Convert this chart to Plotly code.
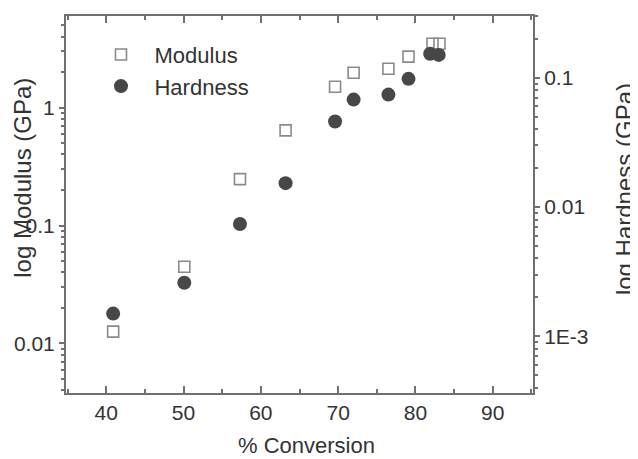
import plotly.graph_objects as go

conversion_modulus = [40.9, 50.1, 57.3, 63.2, 69.6, 72.0, 76.5, 79.1, 82.2, 83.1]
modulus_gpa = [0.0126, 0.0447, 0.247, 0.64, 1.50, 1.97, 2.13, 2.70, 3.47, 3.47]

conversion_hardness = [40.9, 50.1, 57.3, 63.2, 69.6, 72.0, 76.5, 79.1, 81.9, 83.0]
hardness_gpa = [0.00150, 0.0026, 0.0074, 0.0153, 0.0459, 0.0677, 0.074, 0.098, 0.153, 0.150]

x_ticks = [40, 50, 60, 70, 80, 90]
mod_tickvals = [0.01, 0.1, 1]
mod_ticktext = ["0.01", "0.1", "1"]
hard_tickvals = [0.001, 0.01, 0.1]
hard_ticktext = ["1E-3", "0.01", "0.1"]

FONT = "Liberation Sans, Arial, sans-serif"
TXT = "#333333"
AX = "#707070"

fig = go.Figure()
fig.add_trace(go.Scatter(
    x=conversion_modulus, y=modulus_gpa, mode="markers", name="Modulus",
    marker=dict(symbol="square-open", size=11, color="#8a8a8a", line=dict(width=1.6, color="#8a8a8a")),
    yaxis="y"))
fig.add_trace(go.Scatter(
    x=conversion_hardness, y=hardness_gpa, mode="markers", name="Hardness",
    marker=dict(symbol="circle", size=14, color="#474747"),
    yaxis="y2"))

fig.update_layout(
    width=630, height=451,
    margin=dict(l=58, r=105, t=6, b=66),
    paper_bgcolor="white", plot_bgcolor="white",
    font=dict(family=FONT, size=21, color=TXT),
    showlegend=True,
    legend=dict(x=0.046, y=0.953, xanchor="left", yanchor="top",
                bgcolor="rgba(0,0,0,0)", font=dict(size=22, color=TXT),
                itemwidth=57, tracegroupgap=0),
    xaxis=dict(range=[34.8, 95.2], tickvals=x_ticks, ticks="inside", ticklen=7,
               tickwidth=1.5, tickcolor=AX, showline=True, linecolor=AX, linewidth=2,
               mirror="ticks", showgrid=False, zeroline=False,
               minor=dict(dtick=5, tick0=0, ticks="inside", ticklen=4, tickcolor=AX, showgrid=False),
               tickfont=dict(size=21, color=TXT)),
    yaxis=dict(type="log", range=[-2.42, 0.776], tickvals=mod_tickvals, ticktext=mod_ticktext,
               ticks="outside", ticklen=5, tickwidth=1.5, tickcolor=AX,
               showline=True, linecolor=AX, linewidth=2, showgrid=False, zeroline=False,
               minor=dict(dtick="D1", ticks="outside", ticklen=3, tickcolor=AX, showgrid=False),
               tickfont=dict(size=21, color=TXT)),
    yaxis2=dict(type="log", range=[-3.438, -0.523], overlaying="y", side="right",
                tickvals=hard_tickvals, ticktext=hard_ticktext,
                ticks="outside", ticklen=5, tickwidth=1.5, tickcolor=AX,
                showline=True, linecolor=AX, linewidth=2, showgrid=False, zeroline=False,
                minor=dict(dtick="D1", ticks="outside", ticklen=3, tickcolor=AX, showgrid=False),
                tickfont=dict(size=21, color=TXT)),
)

fig.add_annotation(text="% Conversion", xref="paper", yref="paper", x=0.516, y=-0.14,
                   showarrow=False, font=dict(size=22, color=TXT), xanchor="center", yanchor="middle")
fig.add_annotation(text="log Modulus (GPa)", xref="paper", yref="paper", x=-0.095, y=0.57,
                   showarrow=False, textangle=-90, font=dict(size=24, color=TXT),
                   xanchor="center", yanchor="middle")
fig.add_annotation(text="log Hardness (GPa)", xref="paper", yref="paper", x=1.195, y=0.541,
                   showarrow=False, textangle=-90, font=dict(size=24, color=TXT),
                   xanchor="center", yanchor="middle")

fig.write_html("out.html")
